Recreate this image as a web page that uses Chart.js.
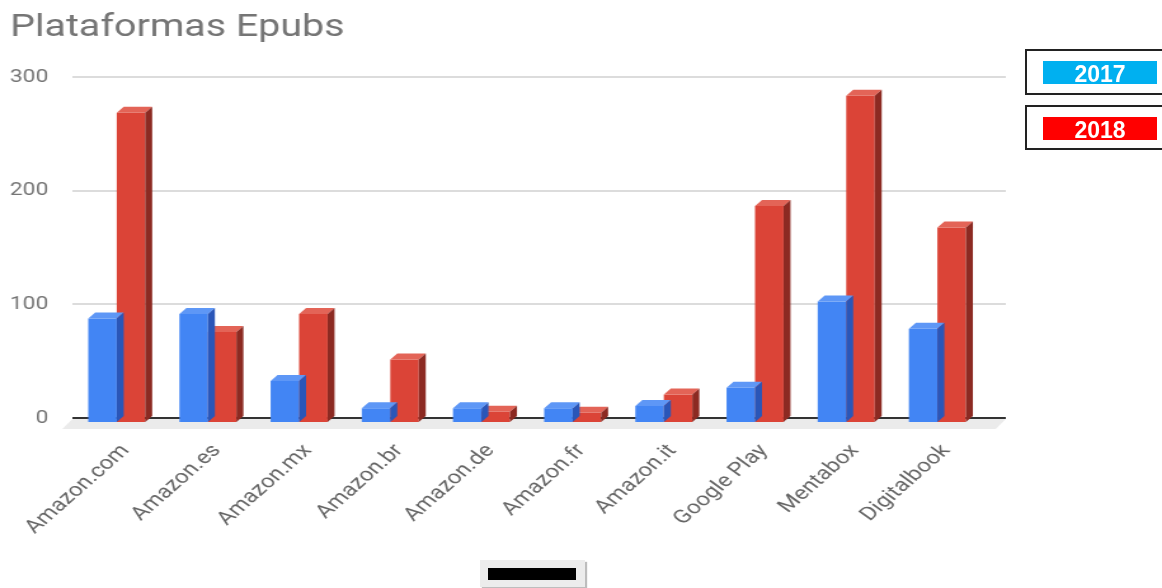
<!DOCTYPE html>
<html>
<head>
<meta charset="utf-8">
<script src="https://cdn.jsdelivr.net/npm/chart.js@4.4.1/dist/chart.umd.min.js"></script>
<style>
  html, body { margin: 0; padding: 0; background: #fff; }
  #page { position: relative; width: 1162px; height: 588px; overflow: hidden; }
  /* the reference is stretched sideways, so the chart is drawn narrow and widened */
  #stretch { position: absolute; left: 0; top: 0; width: 915px; height: 588px; transform: scaleX(1.27); transform-origin: 0 0; }
  .legend-box { position: absolute; left: 1025px; width: 150px; border: 2px solid #222; box-sizing: border-box; background: #fff; }
  .legend-box span { position: absolute; left: 16px; top: 10px; width: 114px; height: 23px; color: #fff;
    font: bold 23px 'Liberation Sans', Arial, sans-serif; text-align: center; line-height: 27px; overflow: visible; }
  #scroll { position: absolute; left: 480px; top: 560px; width: 105px; height: 27px; background: #ececec; box-shadow: 2px 2px 1px #bdbdbd; }
  #scroll div { position: absolute; left: 8px; top: 8px; width: 88px; height: 12px; background: #000; }
</style>
</head>
<body>
<div id="page">
  <div id="stretch"><canvas id="myChart" width="915" height="588"></canvas></div>
  <div id="legend"></div>
  <div id="scroll"><div></div></div>
</div>
<script>
const categories = ['Amazon.com', 'Amazon.es', 'Amazon.mx', 'Amazon.br', 'Amazon.de', 'Amazon.fr', 'Amazon.it', 'Google Play', 'Mentabox', 'Digitalbook'];
const values2017 = [92, 96, 37, 13, 13, 13, 15, 31, 107, 83];
const values2018 = [273, 80, 96, 56, 10, 9, 25, 191, 288, 172];
const seriesLabels = ['2017', '2018'];
const yTicks = [0, 100, 200, 300];

const barColors = ['#4285f4', '#db4437'];
const topColors = ['#5e97f6', '#e36457'];
const sideColors = ['#2a56b8', '#8c2a22'];
const legendColors = ['#00b0f0', '#ff0000'];

// legend boxes on the right
const legend = document.getElementById('legend')
seriesLabels.forEach((label, i) => {
    let box = document.createElement('div')
    box.className = 'legend-box'
    box.style.top = (i === 0 ? 49 : 105) + 'px'
    box.style.height = (i === 0 ? 46 : 45) + 'px'
    let span = document.createElement('span')
    span.style.background = legendColors[i]
    span.textContent = label
    box.appendChild(span)
    legend.appendChild(box)
})

const DX = 5.5, DY = -6;
const GRID_EXTRA = 17;

const depth3d = {
    id: 'depth3d',
    beforeDatasetsDraw(chart) {
        const { ctx, chartArea } = chart
        const yScale = chart.scales.y
        const y0 = yScale.getPixelForValue(0)
        ctx.save()
        // back plane is a little wider than the category band
        yScale.ticks.forEach(t => {
            const py = Math.round(yScale.getPixelForValue(t.value))
            ctx.strokeStyle = t.value === 0 ? '#333333' : '#dcdcdc'
            ctx.lineWidth = 2
            ctx.beginPath()
            ctx.moveTo(chartArea.right - 1, py)
            ctx.lineTo(chartArea.right + GRID_EXTRA, py)
            ctx.stroke()
        })
        ctx.fillStyle = '#ebebeb'
        ctx.beginPath()
        ctx.moveTo(chartArea.left, y0 + 1)
        ctx.lineTo(chartArea.right + GRID_EXTRA, y0 + 1)
        ctx.lineTo(chartArea.right + GRID_EXTRA - 8, y0 + 11)
        ctx.lineTo(chartArea.left - 8, y0 + 11)
        ctx.closePath()
        ctx.fill()
        ctx.restore()
    },
    beforeDatasetDraw(chart) {
        chart.ctx.save()
        chart.ctx.translate(-1, 5)
    },
    afterDatasetDraw(chart, args) {
        const ctx = chart.ctx
        const i = args.index
        args.meta.data.forEach(bar => {
            const { x, y, base, width } = bar.getProps(['x', 'y', 'base', 'width'], true)
            const x0 = x - width / 2, x1 = x + width / 2
            ctx.fillStyle = topColors[i]
            ctx.beginPath()
            ctx.moveTo(x0, y)
            ctx.lineTo(x0 + DX, y + DY)
            ctx.lineTo(x1 + DX, y + DY)
            ctx.lineTo(x1, y)
            ctx.closePath()
            ctx.fill()
            ctx.fillStyle = sideColors[i]
            ctx.beginPath()
            ctx.moveTo(x1, y)
            ctx.lineTo(x1 + DX, y + DY)
            ctx.lineTo(x1 + DX, base + DY)
            ctx.lineTo(x1, base)
            ctx.closePath()
            ctx.fill()
        })
        ctx.restore()
    }
}

new Chart(document.getElementById('myChart'), {
    type: 'bar',
    data: {
        labels: categories,
        datasets: [
            { label: seriesLabels[0], data: values2017, backgroundColor: barColors[0], borderWidth: 0 },
            { label: seriesLabels[1], data: values2018, backgroundColor: barColors[1], borderWidth: 0 }
        ]
    },
    options: {
        responsive: false,
        animation: false,
        devicePixelRatio: 1,
        layout: { padding: { left: 8, right: 140, top: 0, bottom: 0 } },
        datasets: { bar: { categoryPercentage: 0.625, barPercentage: 1 } },
        plugins: {
            legend: { display: false },
            tooltip: { enabled: false },
            title: {
                display: true,
                text: 'Plataformas Epubs',
                align: 'start',
                color: '#757575',
                font: { family: 'Roboto', size: 31, weight: 'normal' },
                padding: { top: 10, bottom: 30 }
            }
        },
        scales: {
            x: {
                grid: { display: false },
                border: { display: false },
                ticks: {
                    color: '#666666',
                    font: { family: 'Roboto', size: 19 },
                    minRotation: 48,
                    maxRotation: 48,
                    padding: 14,
                    labelOffset: 6,
                    autoSkip: false
                },
                afterFit(scale) { scale.height = 170 }
            },
            y: {
                min: 0,
                max: 300,
                afterBuildTicks(scale) { scale.ticks = yTicks.map(v => ({ value: v })) },
                grid: {
                    drawTicks: false,
                    lineWidth: 2,
                    color: ctx => ctx.tick && ctx.tick.value === 0 ? '#333333' : '#dcdcdc'
                },
                border: { display: false },
                ticks: {
                    color: '#757575',
                    font: { family: 'Roboto', size: 18 },
                    padding: 19
                },
                afterFit(scale) { scale.width = 49 }
            }
        }
    },
    plugins: [depth3d]
});
</script>
</body>
</html>
